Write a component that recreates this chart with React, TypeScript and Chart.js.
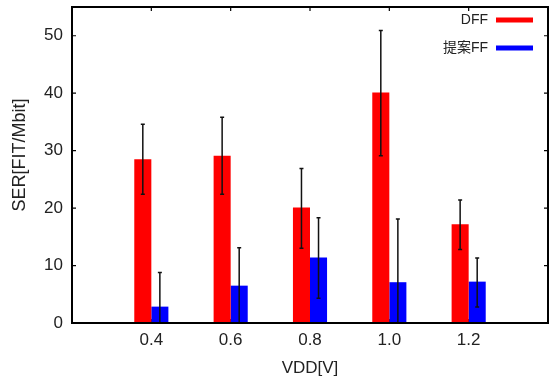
import React, { useEffect, useRef } from "react";
import { Chart, registerables } from "chart.js";

Chart.register(...registerables);

const vdd = [0.4, 0.6, 0.8, 1.0, 1.2];
const xMin = 0.2;
const xMax = 1.4;
const yMax = 55;
const yTickValues = [0, 10, 20, 30, 40, 50];

const dffLabel = "DFF";
const dffSer = [28.5, 29.1, 20.1, 40.1, 17.2];
const dffErrHigh = [34.6, 35.8, 26.9, 50.9, 21.4];
const dffErrLow = [22.4, 22.4, 13.0, 29.1, 12.8];

const propLabel = "提案FF";
const propSer = [2.85, 6.5, 11.4, 7.1, 7.2];
const propErrHigh = [8.8, 13.1, 18.3, 18.1, 11.3];
const propErrLow = [-3.1, -0.1, 4.3, -3.9, 2.8];

const xTitle = "VDD[V]";
const yTitle = "SER[FIT/Mbit]";

const FONT = "'Liberation Sans', Arial, 'Noto Sans CJK JP', sans-serif";
const TEXT = "#222";

const errLow = [dffErrLow, propErrLow];
const errHigh = [dffErrHigh, propErrHigh];

const framePlugin = {
  id: "frameTicks",
  beforeDatasetsDraw(chart: any) {
    const { ctx, chartArea: a, scales } = chart;
    ctx.save();
    ctx.strokeStyle = "#000";
    ctx.lineWidth = 1.2;
    ctx.beginPath();
    yTickValues.forEach((v) => {
      const y = scales.y.getPixelForValue(v);
      ctx.moveTo(a.left, y);
      ctx.lineTo(a.left + 4, y);
      ctx.moveTo(a.right, y);
      ctx.lineTo(a.right - 4, y);
    });
    vdd.forEach((v) => {
      const x = scales.x.getPixelForValue(v);
      ctx.moveTo(x, a.top);
      ctx.lineTo(x, a.top + 4);
      ctx.moveTo(x, a.bottom);
      ctx.lineTo(x, a.bottom - 4);
    });
    ctx.stroke();
    ctx.restore();
  },
  afterDatasetsDraw(chart: any) {
    const { ctx, chartArea: a, scales } = chart;
    ctx.save();
    // error bars
    ctx.beginPath();
    ctx.rect(a.left, a.top, a.right - a.left, a.bottom - a.top);
    ctx.clip();
    ctx.strokeStyle = "#111";
    ctx.lineWidth = 1.5;
    chart.data.datasets.forEach((_ds: any, i: number) => {
      const meta = chart.getDatasetMeta(i);
      meta.data.forEach((el: any, j: number) => {
        const x = el.x;
        const yt = scales.y.getPixelForValue(errHigh[i][j]);
        const yb = scales.y.getPixelForValue(errLow[i][j]);
        ctx.beginPath();
        ctx.moveTo(x, yt);
        ctx.lineTo(x, yb);
        ctx.moveTo(x - 2, yt);
        ctx.lineTo(x + 2, yt);
        ctx.moveTo(x - 2, yb);
        ctx.lineTo(x + 2, yb);
        ctx.stroke();
      });
    });
    ctx.restore();

    // frame
    ctx.save();
    ctx.strokeStyle = "#000";
    ctx.lineWidth = 2;
    ctx.strokeRect(a.left, a.top, a.right - a.left, a.bottom - a.top);
    ctx.restore();

    // legend (gnuplot style: text then swatch, top right inside)
    ctx.save();
    ctx.font = `14px ${FONT}`;
    ctx.textAlign = "right";
    ctx.textBaseline = "middle";
    chart.data.datasets.forEach((ds: any, i: number) => {
      const y = a.top + 13 + i * 28;
      const xr = a.right - 60;
      ctx.fillStyle = TEXT;
      ctx.fillText(ds.label, xr, y);
      ctx.strokeStyle = ds.backgroundColor;
      ctx.lineWidth = 5;
      ctx.beginPath();
      ctx.moveTo(xr + 8, y);
      ctx.lineTo(xr + 45, y);
      ctx.stroke();
    });
    ctx.restore();
  },
};

export default function App() {
  const ref = useRef<HTMLCanvasElement>(null);
  useEffect(() => {
    if (!ref.current) return;
    const chart = new Chart(ref.current, {
      type: "bar",
      data: {
        datasets: [
          {
            label: dffLabel,
            data: vdd.map((v, i) => ({ x: v, y: dffSer[i] })),
            backgroundColor: "#ff0000",
            borderWidth: 0,
          },
          {
            label: propLabel,
            data: vdd.map((v, i) => ({ x: v, y: propSer[i] })),
            backgroundColor: "#0000ff",
            borderWidth: 0,
          },
        ],
      },
      options: {
        animation: false,
        responsive: false,
        devicePixelRatio: 1,
        layout: { padding: { top: 7, right: 2, left: 0, bottom: 0 } },
        datasets: {
          bar: { categoryPercentage: 0.43, barPercentage: 1.0 },
        },
        plugins: {
          legend: { display: false },
          tooltip: { enabled: false },
        },
        scales: {
          x: {
            type: "linear",
            min: xMin,
            max: xMax,
            offset: false,
            grid: { display: false, drawTicks: false },
            border: { display: false },
            afterBuildTicks: (s: any) => {
              s.ticks = vdd.map((v) => ({ value: v }));
            },
            afterFit: (s: any) => {
              s.height = 56;
              s.paddingLeft = 0;
              s.paddingRight = 0;
            },
            ticks: {
              padding: 7,
              color: TEXT,
              font: { family: FONT, size: 17 },
              callback: (v: any) => Number(v).toFixed(1),
            },
            title: {
              display: true,
              text: xTitle,
              color: TEXT,
              font: { family: FONT, size: 17 },
              padding: { top: 0, bottom: 0 },
            },
          },
          y: {
            type: "linear",
            min: 0,
            max: yMax,
            grid: { display: false, drawTicks: false },
            border: { display: false },
            afterBuildTicks: (s: any) => {
              s.ticks = yTickValues.map((v) => ({ value: v }));
            },
            afterFit: (s: any) => {
              s.width = 72;
              s.paddingTop = 0;
              s.paddingBottom = 0;
            },
            ticks: {
              padding: 9,
              color: TEXT,
              font: { family: FONT, size: 17 },
            },
            title: {
              display: true,
              text: "    " + yTitle,
              color: TEXT,
              font: { family: FONT, size: 18 },
              padding: { top: 9, bottom: 0 },
            },
          },
        },
      },
      plugins: [framePlugin],
    } as any);
    return () => chart.destroy();
  }, []);
  return (
    <div style={{ position: "absolute", left: 0, top: 0, width: 550, height: 379, background: "#fff" }}>
      <canvas ref={ref} width={550} height={379} />
    </div>
  );
}
